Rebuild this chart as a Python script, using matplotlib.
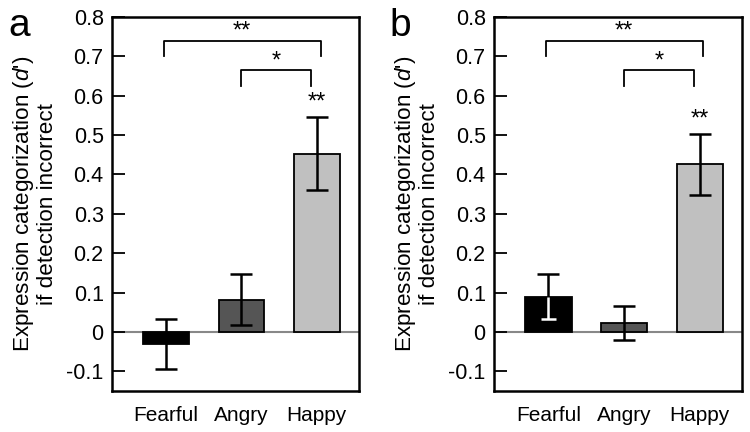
import matplotlib.pyplot as plt
import numpy as np

plt.rcParams['font.family'] = ['Liberation Sans', 'DejaVu Sans']
plt.rcParams['mathtext.fontset'] = 'custom'
plt.rcParams['mathtext.it'] = 'Liberation Sans:italic'
plt.rcParams['mathtext.rm'] = 'Liberation Sans'

## data
categories = ['Fearful', 'Angry', 'Happy']
colors = ['black', '#555555', '#c0c0c0']

means_a = [-0.03, 0.082, 0.453]
errs_a = [0.063, 0.064, 0.093]
means_b = [0.090, 0.022, 0.426]
errs_b = [0.056, 0.043, 0.077]

yticks = [-0.1, 0, 0.1, 0.2, 0.3, 0.4, 0.5, 0.6, 0.7, 0.8]
yticklabels = ['-0.1', '0', '0.1', '0.2', '0.3', '0.4', '0.5', '0.6', '0.7', '0.8']

## plot
fig = plt.figure(figsize=(7.5, 4.32), dpi=100)
ax_a = fig.add_axes([0.1493, 0.0949, 0.3293, 0.8657])
ax_b = fig.add_axes([0.6587, 0.0949, 0.3307, 0.8657])


def draw_panel(ax, means, errs, letter, star_top):
    x = np.arange(len(categories))
    ax.axhline(0, color='#888888', lw=1.5, zorder=1)
    ax.bar(x, means, width=0.61, color=colors, edgecolor='black', lw=1.3, zorder=2)
    ax.errorbar(x, means, yerr=errs, fmt='none', ecolor='black', elinewidth=1.8,
                capsize=8, capthick=1.8, zorder=3)
    # part of the error bar inside a black bar is drawn in white
    for xi, m, e, c in zip(x, means, errs, colors):
        if c == 'black' and m > 0:
            ax.vlines(xi, m - e, m, color='white', lw=1.8, zorder=4)
            ax.hlines(m - e, xi - 0.1, xi + 0.1, color='white', lw=1.8, zorder=4)

    # significance brackets
    ax.plot([-0.03, -0.03, 2.05, 2.05], [0.702, 0.739, 0.739, 0.702], color='black', lw=1.3)
    ax.text(1.0, 0.762, '**', ha='center', va='center', fontsize=17)
    ax.plot([1.0, 1.0, 1.92, 1.92], [0.626, 0.666, 0.666, 0.626], color='black', lw=1.3)
    ax.text(1.46, 0.688, '*', ha='center', va='center', fontsize=17)
    ax.text(2.0, star_top, '**', ha='center', va='center', fontsize=17)

    ax.set_xlim(-0.72, 2.56)
    ax.set_ylim(-0.15, 0.8)
    ax.set_yticks(yticks)
    ax.set_yticklabels(yticklabels, fontsize=15.5)
    ax.set_xticks(x)
    ax.set_xticklabels(categories, fontsize=15)
    ax.tick_params(axis='y', direction='in', length=9, width=1.3, pad=6)
    ax.tick_params(axis='x', length=0, pad=11)
    for s in ax.spines.values():
        s.set_linewidth(1.8)
    ax.set_ylabel("Expression categorization ($d$')\nif detection incorrect",
                  fontsize=16.2, labelpad=6, linespacing=1.05)
    ax.text(-0.42, 0.975, letter, transform=ax.transAxes, fontsize=28,
            va='center', ha='left')


draw_panel(ax_a, means_a, errs_a, 'a', 0.584)
draw_panel(ax_b, means_b, errs_b, 'b', 0.540)

plt.savefig('out.png', dpi=100)
